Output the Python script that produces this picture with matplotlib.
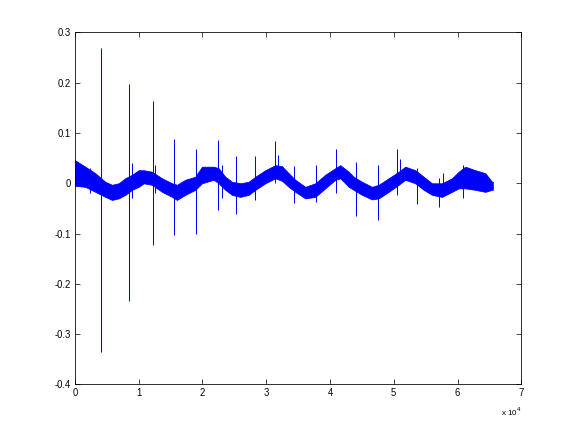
import numpy as np
import matplotlib
matplotlib.use("Agg")
import matplotlib.pyplot as plt

# Envelope of the dense signal band (sample index, upper edge, lower edge)
env_x = [0, 1631, 3199, 4767, 5818, 6868, 7903, 8954, 10005, 10789,
         12090, 13658, 15227, 16011, 17312, 18880, 19931, 21766, 22550, 23585,
         24636, 25937, 27254, 28289, 29857, 31425, 32476, 33527, 34562, 36130,
         37698, 39266, 40834, 41618, 42935, 43720, 45021, 46589, 47640, 49208,
         50776, 51811, 53379, 54697, 55998, 57567, 59135, 60185, 61220, 62788,
         64356, 65407, 65536]
env_hi = [0.046, 0.033, 0.020, 0.003, -0.003, 0.000, 0.010, 0.017, 0.026, 0.026,
          0.023, 0.010, 0.000, -0.003, 0.007, 0.013, 0.033, 0.033, 0.030, 0.013,
          0.003, 0.000, 0.003, 0.013, 0.026, 0.036, 0.034, 0.020, 0.007, -0.007,
          0.000, 0.017, 0.030, 0.036, 0.023, 0.013, 0.003, -0.007, -0.003, 0.010,
          0.023, 0.033, 0.026, 0.013, 0.000, 0.000, 0.010, 0.023, 0.033, 0.026,
          0.020, 0.003, 0.003]
env_lo = [-0.005, -0.007, -0.017, -0.027, -0.033, -0.030, -0.023, -0.013, -0.007, 0.000,
          -0.003, -0.017, -0.027, -0.033, -0.023, -0.013, 0.000, 0.007, 0.000, -0.013,
          -0.023, -0.027, -0.023, -0.013, 0.000, 0.010, 0.005, -0.007, -0.017, -0.030,
          -0.027, -0.010, 0.007, 0.010, -0.007, -0.013, -0.023, -0.032, -0.030, -0.017,
          -0.003, 0.007, 0.000, -0.013, -0.023, -0.027, -0.017, -0.010, -0.010, -0.013,
          -0.017, -0.013, -0.013]

# Spikes (sample index, top, bottom)
spike_x = [4140, 8531, 12294, 15587, 19069, 22518, 25341, 28242, 31425, 31896,
           34405, 37855, 41022, 44158, 47577, 50588, 50980, 53693, 57143, 57770,
           60812, 9000, 12600, 18950, 23000, 2400]
spike_top = [0.268, 0.197, 0.163, 0.089, 0.069, 0.087, 0.054, 0.054, 0.084, 0.056,
             0.034, 0.036, 0.069, 0.042, 0.036, 0.069, 0.048, 0.030, 0.010, 0.020,
             0.036, 0.040, 0.036, 0.010, 0.036, 0.030]
spike_bot = [-0.335, -0.234, -0.123, -0.103, -0.100, -0.054, -0.062, -0.034, 0.000, 0.010,
             -0.040, -0.037, -0.020, -0.065, -0.072, -0.024, 0.000, -0.042, -0.048, -0.010,
             -0.029, -0.030, -0.020, -0.040, -0.030, -0.020]

x_ticks = [0, 10000, 20000, 30000, 40000, 50000, 60000, 70000]
x_labels = ["0", "1", "2", "3", "4", "5", "6", "7"]
y_ticks = [-0.4, -0.3, -0.2, -0.1, 0.0, 0.1, 0.2, 0.3]
y_labels = ["-0.4", "-0.3", "-0.2", "-0.1", "0", "0.1", "0.2", "0.3"]

plt.rcParams['font.family'] = ['Liberation Sans', 'DejaVu Sans']
fig = plt.figure(figsize=(8, 6), dpi=72)
ax = fig.add_axes([0.13, 0.11, 0.775, 0.815])

blue = '#0000ff'
ax.fill_between(env_x, env_lo, env_hi, color=blue, linewidth=0.8, edgecolor=blue)
ax.vlines(spike_x, spike_bot, spike_top, color=blue, linewidth=1.0)

ax.set_xlim(0, 70000)
ax.set_ylim(-0.4, 0.3)
ax.set_xticks(x_ticks)
ax.set_xticklabels(x_labels)
ax.set_yticks(y_ticks)
ax.set_yticklabels(y_labels)
ax.tick_params(direction='in', length=5, width=0.7, top=True, right=True,
               labelsize=9.5, pad=4)
for s in ax.spines.values():
    s.set_linewidth(0.8)
ax.text(1.0, -0.06, r"x 10$^{4}$", transform=ax.transAxes, ha='right', va='top',
        fontsize=8)

fig.savefig("out.png", dpi=72)
